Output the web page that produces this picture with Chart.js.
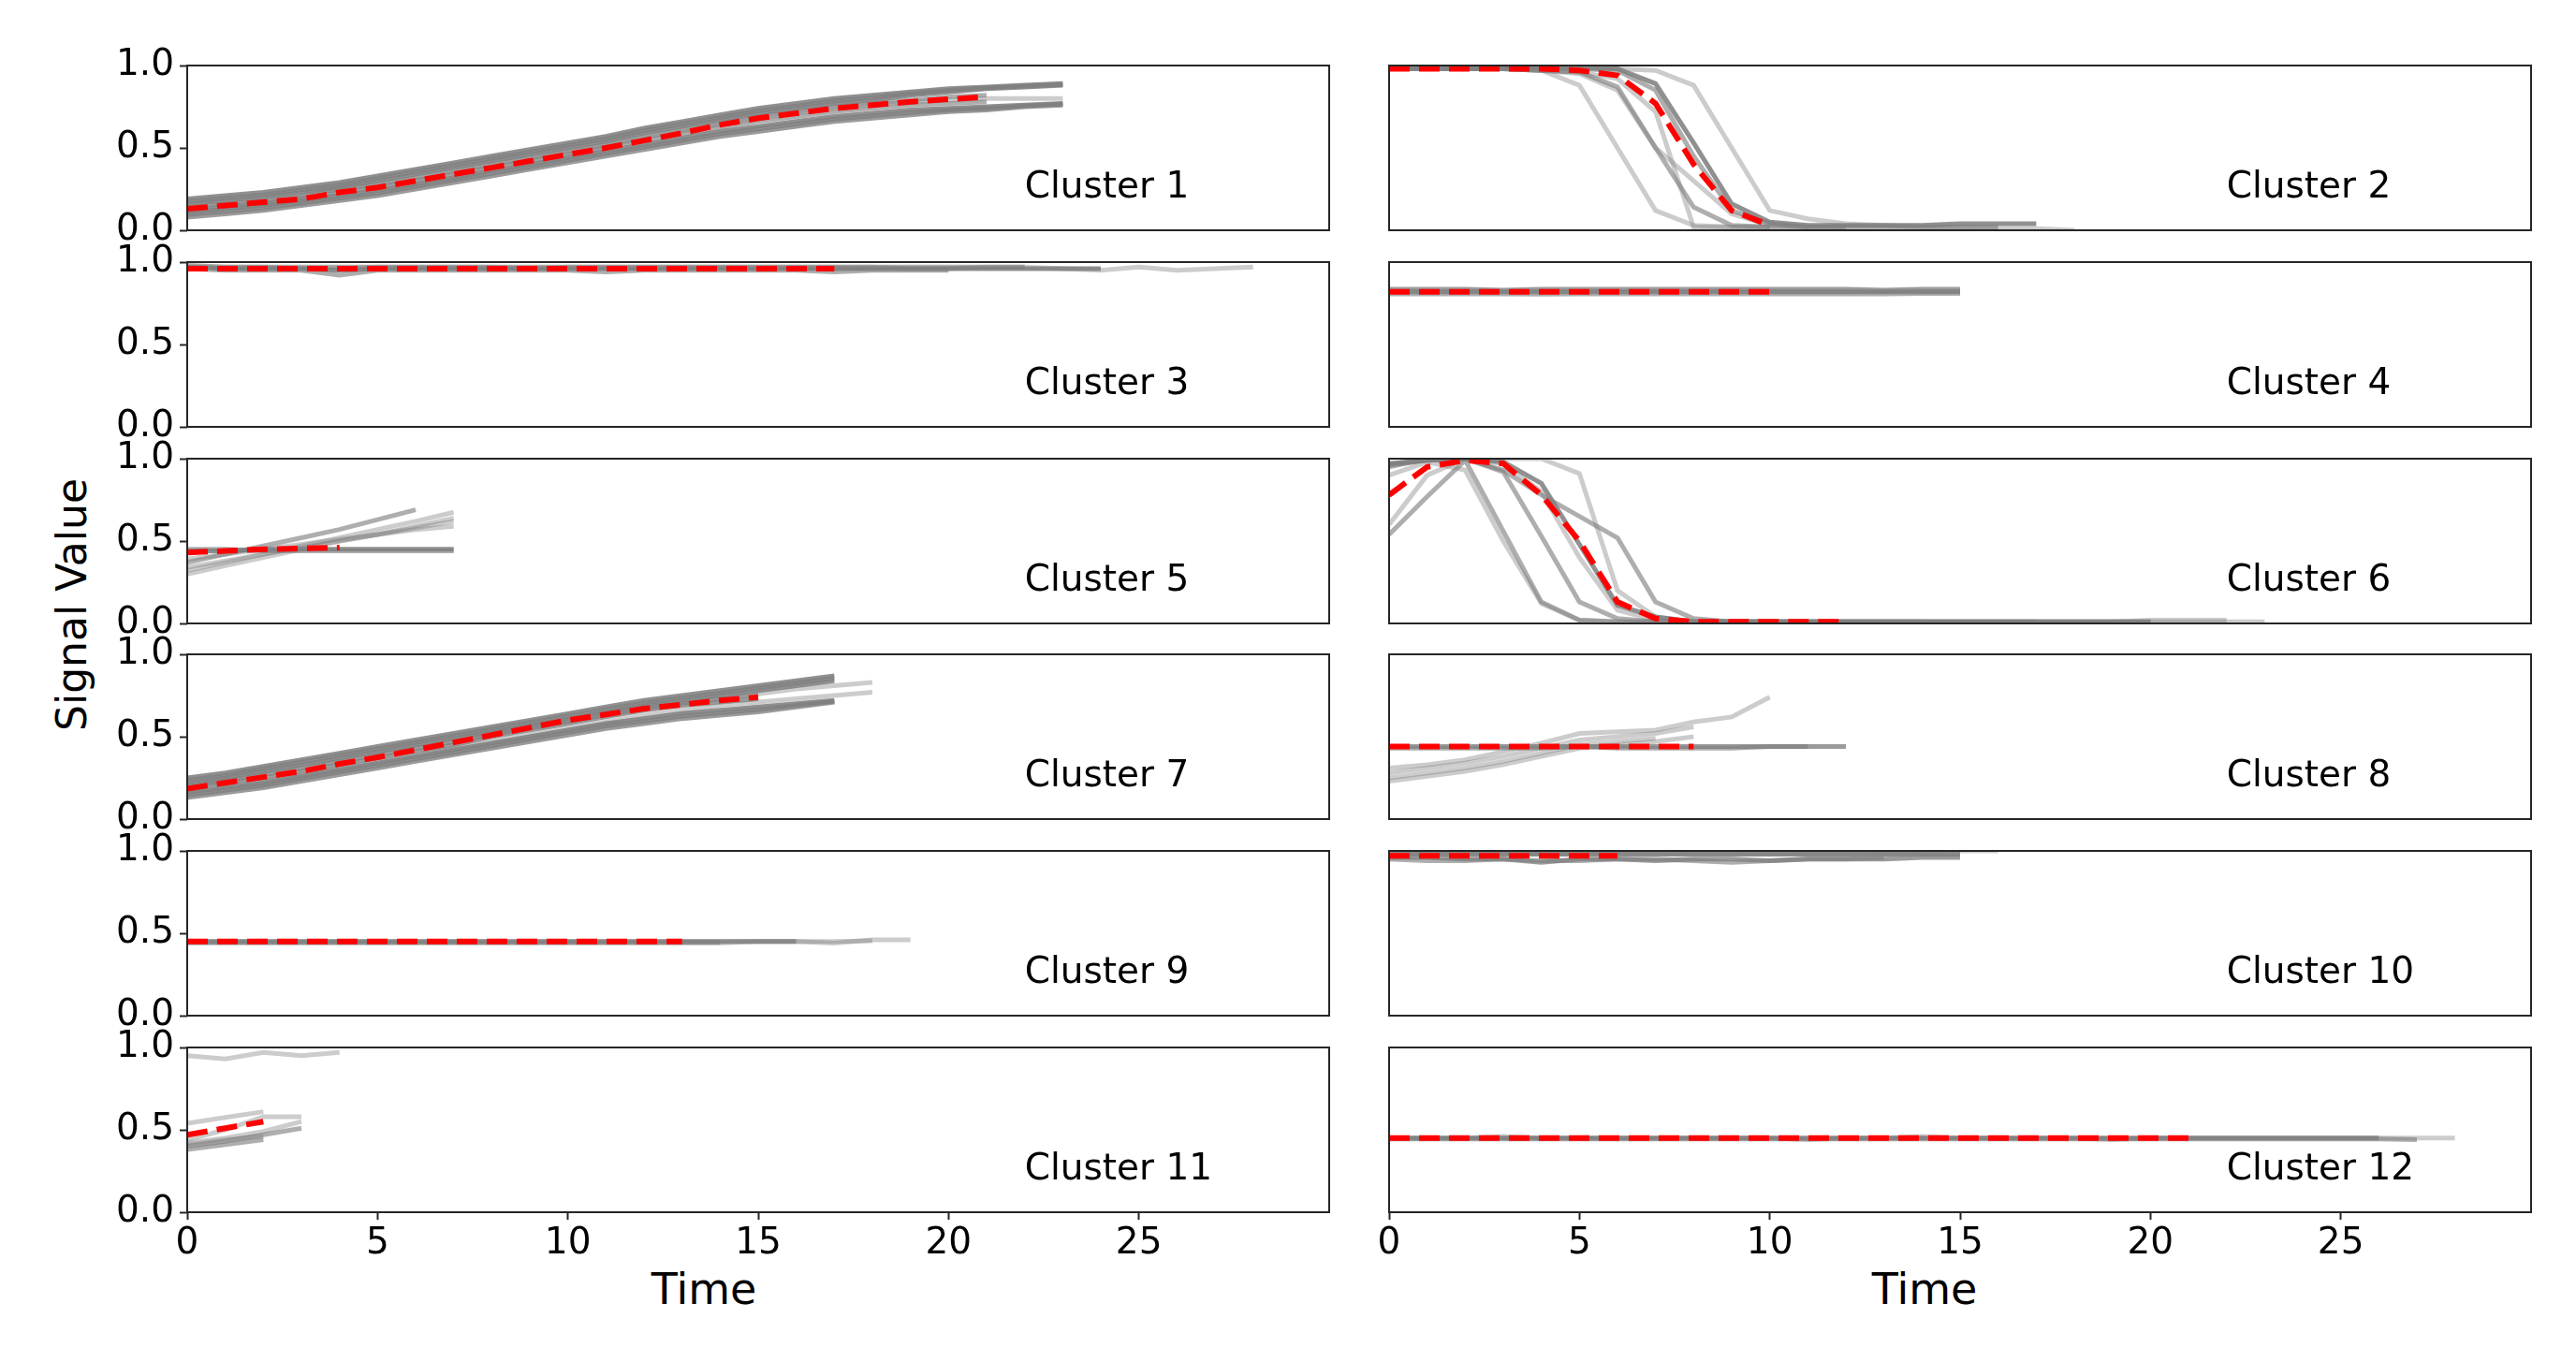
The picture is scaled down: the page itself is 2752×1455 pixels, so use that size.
<!DOCTYPE html>
<html>
<head>
<meta charset="utf-8">
<script src="https://cdn.jsdelivr.net/npm/chart.js@4.4.0/dist/chart.umd.min.js"></script>
<style>
body{margin:0;background:#fff;width:2752px;height:1455px;position:relative;overflow:hidden}
canvas{position:absolute}
.lbl{position:absolute;font-family:"DejaVu Sans";color:#000;white-space:nowrap;line-height:1}
</style>
</head>
<body>

<div class="lbl" id="ylab" style="font-size:44px;left:77px;top:646px;transform:translate(-50%,-50%) rotate(-90deg)">Signal Value</div>
<div class="lbl" style="font-size:46px;left:752px;top:1354px;transform:translateX(-50%)">Time</div>
<div class="lbl" style="font-size:46px;left:2056px;top:1354px;transform:translateX(-50%)">Time</div>

<script>
/* =====================================================
DATA (x = 0,1,2,... per series)
===================================================== */

const timeTicks=[0,5,10,15,20,25]
const signalTicks=[0,0.5,1.0]
const clusterNames=["Cluster 1","Cluster 2","Cluster 3","Cluster 4","Cluster 5","Cluster 6",
"Cluster 7","Cluster 8","Cluster 9","Cluster 10","Cluster 11","Cluster 12"]

/* cluster 1 */
const cluster1Mean=[0.13,0.15,0.17,0.19,0.23,0.26,0.30,0.34,0.38,0.42,0.46,0.50,0.545,0.59,0.64,0.68,0.71,0.74,0.76,0.78,0.795,0.81]
const cluster1Members=[
[0.19,0.21,0.23,0.26,0.29,0.33,0.37,0.41,0.45,0.49,0.53,0.57,0.62,0.66,0.70,0.74,0.77,0.80,0.82,0.84,0.86,0.87,0.88,0.89],
[0.175,0.195,0.215,0.245,0.275,0.315,0.355,0.395,0.435,0.475,0.515,0.555,0.605,0.645,0.685,0.725,0.755,0.785,0.805,0.83,0.85,0.865,0.875,0.885],
[0.16,0.18,0.20,0.23,0.26,0.30,0.34,0.38,0.42,0.46,0.50,0.54,0.59,0.63,0.67,0.71,0.74,0.77,0.79,0.82,0.84,0.86,0.87,0.88],
[0.13,0.15,0.17,0.20,0.23,0.27,0.31,0.35,0.39,0.43,0.47,0.51,0.56,0.60,0.64,0.68,0.71,0.74,0.76,0.78,0.79,0.80,0.80,0.80],
[0.125,0.145,0.165,0.195,0.23,0.26,0.30,0.34,0.38,0.42,0.46,0.50,0.545,0.585,0.625,0.66,0.69,0.72,0.74,0.76,0.77,0.78],
[0.11,0.13,0.15,0.18,0.21,0.24,0.28,0.32,0.36,0.40,0.44,0.48,0.52,0.56,0.60,0.63,0.66,0.69,0.71,0.73,0.74,0.75,0.76,0.77],
[0.095,0.115,0.135,0.165,0.195,0.225,0.265,0.305,0.345,0.385,0.425,0.465,0.505,0.545,0.585,0.615,0.645,0.675,0.695,0.715,0.73,0.74,0.755,0.765],
[0.08,0.10,0.12,0.15,0.18,0.21,0.25,0.29,0.33,0.37,0.41,0.45,0.49,0.53,0.57,0.60,0.63,0.66,0.68,0.70,0.72,0.73,0.75,0.76],
[0.14,0.16,0.18,0.21,0.25,0.28,0.32,0.36,0.40,0.44,0.48,0.52,0.57,0.61,0.65,0.69,0.72,0.75,0.77,0.79,0.81,0.82]
]
const cluster1Counts=[4,3,4,1,2,4,3,3,2]

/* cluster 2 */
const cluster2Mean=[0.98,0.98,0.98,0.98,0.98,0.97,0.94,0.77,0.40,0.12,0.03]
const cluster2Members=[
[0.98,0.98,0.98,0.98,0.97,0.88,0.50,0.12,0.03,0.02,0.02],
[0.98,0.98,0.98,0.98,0.97,0.96,0.87,0.50,0.14,0.03,0.02,0.02,0.02],
[0.99,0.99,0.99,0.99,0.99,0.99,0.98,0.89,0.53,0.16,0.05,0.03,0.03,0.03,0.03,0.04,0.04,0.04],
[0.98,0.98,0.98,0.98,0.98,0.98,0.98,0.97,0.88,0.50,0.12,0.07,0.04,0.03,0.02,0.02,0.01,0.01,0.00],
[0.98,0.98,0.98,0.98,0.97,0.96,0.92,0.72,0.02,0.02,0.02],
[0.98,0.98,0.98,0.98,0.97,0.95,0.85,0.50,0.30,0.10,0.03,0.02],
[0.99,0.99,0.99,0.99,0.99,0.98,0.97,0.85,0.45,0.12,0.04,0.02,0.02,0.02,0.02,0.02,0.02]
]
const cluster2Counts=[1,2,4,1,1,1,2]

/* cluster 3 */
const cluster3Mean=[0.96,0.96,0.96,0.96,0.96,0.96,0.96,0.96,0.96,0.96,0.96,0.96,0.96,0.96,0.96,0.96,0.96,0.96]
const cluster3Members=[
[0.97,0.96,0.96,0.96,0.95,0.96,0.96,0.96,0.96,0.96,0.96,0.96,0.96,0.96,0.96,0.96,0.96,0.96,0.96,0.96,0.96,0.96,0.96,0.96,0.96],
[0.96,0.95,0.95,0.95,0.92,0.95,0.95,0.95,0.95,0.95,0.95,0.94,0.95,0.95,0.95,0.95,0.95,0.94,0.95,0.95,0.95],
[0.97,0.97,0.97,0.96,0.96,0.97,0.97,0.97,0.97,0.96,0.97,0.97,0.97,0.97,0.97,0.97,0.97,0.97,0.97,0.96,0.96,0.97,0.97,0.96,0.95,0.97,0.95,0.96,0.97],
[0.98,0.97,0.97,0.97,0.97,0.97,0.97,0.97,0.97,0.97,0.97,0.97,0.97,0.97,0.97,0.97,0.97,0.97,0.97,0.97,0.97,0.97,0.97]
]
const cluster3Counts=[4,2,1,2]

/* cluster 4 */
const cluster4Mean=[0.82,0.82,0.82,0.82,0.82,0.82,0.82,0.82,0.82,0.82,0.82]
const cluster4Members=[
[0.82,0.82,0.82,0.82,0.82,0.82,0.82,0.82,0.82,0.82,0.82,0.82,0.82,0.82,0.82,0.82],
[0.835,0.835,0.835,0.83,0.835,0.835,0.835,0.835,0.835,0.835,0.835,0.835,0.835,0.83,0.835,0.835],
[0.807,0.807,0.807,0.807,0.805,0.807,0.807,0.807,0.807,0.807,0.807,0.807,0.807,0.807,0.81,0.81]
]
const cluster4Counts=[4,3,2]

/* cluster 5 */
const cluster5Mean=[0.43,0.44,0.45,0.455,0.46]
const cluster5Members=[
[0.44,0.44,0.45,0.45,0.45,0.45,0.45,0.45],
[0.45,0.45,0.44,0.44,0.44,0.44,0.44,0.44],
[0.37,0.42,0.47,0.52,0.57,0.63,0.69],
[0.32,0.37,0.42,0.47,0.52,0.57,0.62,0.675],
[0.30,0.35,0.40,0.45,0.50,0.54,0.59,0.64],
[0.34,0.38,0.42,0.46,0.50,0.54,0.58,0.62],
[0.39,0.42,0.45,0.48,0.51,0.54,0.57,0.59]
]
const cluster5Counts=[4,2,2,1,1,1,1]

/* cluster 6 */
const cluster6Mean=[0.78,0.95,0.99,0.97,0.78,0.50,0.13,0.03,0.01,0.01,0.01,0.01,0.01]
const cluster6Members=[
[0.54,0.77,0.99,0.56,0.13,0.02,0.01,0.01,0.01,0.01,0.01,0.01,0.01,0.01,0.01,0.01,0.01,0.01,0.01,0.01,0.01],
[0.95,1.00,1.00,0.92,0.53,0.13,0.03,0.01,0.01,0.01,0.01,0.01,0.01,0.01,0.01],
[0.97,0.99,1.00,0.98,0.85,0.48,0.11,0.04,0.01,0.01,0.01,0.01,0.01,0.01,0.01,0.01,0.01,0.01,0.01,0.01,0.01],
[0.97,0.99,1.00,1.00,1.00,0.91,0.20,0.04,0.01,0.01,0.01,0.01,0.01,0.01,0.01,0.01,0.01,0.01,0.01,0.01,0.01,0.01,0.01,0.01],
[0.96,0.99,1.00,0.93,0.78,0.65,0.52,0.13,0.03,0.01,0.01,0.01,0.01,0.01,0.01,0.01,0.01,0.01],
[0.90,0.98,0.93,0.50,0.12,0.02,0.01,0.01,0.01,0.01,0.01],
[0.60,0.90,1.00,0.97,0.80,0.40,0.08,0.02,0.01,0.01,0.01,0.01,0.01,0.01,0.01,0.01,0.01,0.01,0.01,0.01,0.02,0.02,0.02]
]
const cluster6Counts=[2,2,4,1,2,1,1]

/* cluster 7 */
const cluster7Mean=[0.185,0.22,0.255,0.29,0.335,0.375,0.42,0.465,0.51,0.555,0.60,0.635,0.67,0.695,0.72,0.74]
const cluster7Members=[
[0.25,0.28,0.32,0.36,0.40,0.44,0.48,0.52,0.56,0.60,0.64,0.68,0.72,0.75,0.78,0.81,0.84,0.87],
[0.235,0.265,0.305,0.345,0.385,0.425,0.465,0.505,0.545,0.585,0.625,0.665,0.705,0.735,0.765,0.795,0.825,0.855],
[0.22,0.25,0.29,0.33,0.37,0.41,0.45,0.49,0.53,0.57,0.61,0.65,0.69,0.72,0.75,0.78,0.81,0.84],
[0.205,0.235,0.27,0.31,0.35,0.39,0.43,0.47,0.515,0.555,0.595,0.635,0.675,0.705,0.73,0.755],
[0.19,0.22,0.25,0.29,0.33,0.37,0.41,0.45,0.50,0.54,0.58,0.62,0.66,0.69,0.71,0.73],
[0.16,0.19,0.22,0.26,0.30,0.34,0.38,0.42,0.46,0.50,0.54,0.58,0.61,0.64,0.66,0.68,0.70,0.72],
[0.145,0.175,0.205,0.245,0.285,0.325,0.365,0.405,0.445,0.485,0.525,0.565,0.595,0.625,0.645,0.665,0.69,0.715],
[0.13,0.16,0.19,0.23,0.27,0.31,0.35,0.39,0.43,0.47,0.51,0.55,0.58,0.61,0.63,0.65,0.68,0.71],
[0.20,0.23,0.27,0.31,0.35,0.39,0.43,0.47,0.51,0.55,0.59,0.63,0.67,0.70,0.73,0.76,0.79,0.81,0.83],
[0.17,0.20,0.23,0.27,0.31,0.35,0.39,0.43,0.47,0.51,0.55,0.59,0.63,0.66,0.69,0.71,0.73,0.75,0.77]
]
const cluster7Counts=[4,3,4,2,3,4,3,3,1,1]

/* cluster 8 */
const cluster8Mean=[0.44,0.44,0.44,0.44,0.44,0.44,0.44,0.44,0.44]
const cluster8Members=[
[0.44,0.44,0.44,0.44,0.44,0.44,0.44,0.44,0.44,0.44,0.44,0.44,0.44],
[0.43,0.43,0.43,0.43,0.43,0.44,0.43,0.43,0.43,0.43,0.44,0.44],
[0.31,0.33,0.36,0.41,0.46,0.52,0.53,0.54,0.59,0.62,0.74],
[0.28,0.31,0.34,0.38,0.43,0.48,0.50,0.52,0.56],
[0.25,0.28,0.31,0.35,0.40,0.45,0.47,0.49],
[0.23,0.26,0.29,0.33,0.38,0.43,0.45,0.47,0.50]
]
const cluster8Counts=[3,2,1,1,1,1]

/* cluster 9 */
const cluster9Mean=[0.45,0.45,0.45,0.45,0.45,0.45,0.45,0.45,0.45,0.45,0.45,0.45,0.45,0.45]
const cluster9Members=[
[0.45,0.45,0.45,0.45,0.45,0.45,0.45,0.45,0.45,0.45,0.45,0.45,0.45,0.45,0.45,0.45,0.45],
[0.45,0.45,0.45,0.45,0.45,0.45,0.45,0.45,0.45,0.45,0.45,0.45,0.45,0.45,0.45,0.45,0.45,0.44,0.46,0.46],
[0.44,0.44,0.44,0.44,0.44,0.44,0.44,0.44,0.44,0.44,0.44,0.44,0.44,0.44,0.44,0.45,0.45,0.45,0.455],
[0.445,0.445,0.445,0.445,0.445,0.445,0.445,0.445,0.445,0.445,0.445,0.445,0.445,0.445,0.445]
]
const cluster9Counts=[3,1,1,2]

/* cluster 10 */
const cluster10Mean=[0.97,0.97,0.97,0.97,0.97,0.97,0.97]
const cluster10Members=[
[0.98,0.98,0.98,0.98,0.98,0.98,0.98,0.98,0.98,0.98,0.98,0.98,0.98,0.98,0.98,0.98],
[0.96,0.96,0.95,0.95,0.93,0.95,0.95,0.94,0.95,0.95,0.94,0.95,0.95,0.95,0.96,0.96],
[0.99,0.99,0.99,0.99,0.99,0.99,0.99,0.99,0.99,0.99,0.99,0.99,0.99,0.99,0.99,1.00,1.00],
[0.95,0.94,0.94,0.95,0.94,0.94,0.95,0.95,0.94,0.93,0.94,0.95,0.95,0.96]
]
const cluster10Counts=[5,3,1,2]

/* cluster 11 */
const cluster11Mean=[0.47,0.51,0.55]
const cluster11Members=[
[0.95,0.93,0.97,0.95,0.97],
[0.54,0.575,0.61],
[0.44,0.50,0.58,0.58],
[0.42,0.45,0.49,0.55],
[0.40,0.43,0.47,0.51],
[0.38,0.41,0.44],
[0.41,0.44,0.46]
]
const cluster11Counts=[1,1,1,1,2,2,1]

/* cluster 12 */
const cluster12Mean=[0.45,0.45,0.45,0.45,0.45,0.45,0.45,0.45,0.45,0.45,0.45,0.45,0.45,0.45,0.45,0.45,0.45,0.45,0.45,0.45,0.45,0.45]
const cluster12Members=[
[0.45,0.45,0.45,0.45,0.45,0.45,0.45,0.45,0.45,0.45,0.45,0.45,0.45,0.45,0.45,0.45,0.45,0.45,0.45,0.45,0.45,0.45,0.45,0.45,0.45,0.45,0.45],
[0.445,0.445,0.445,0.445,0.445,0.445,0.445,0.445,0.445,0.445,0.445,0.445,0.445,0.445,0.445,0.445,0.445,0.445,0.445,0.445,0.445,0.445,0.445,0.445,0.445,0.445,0.445,0.44],
[0.45,0.45,0.45,0.46,0.45,0.45,0.45,0.45,0.45,0.45,0.45,0.44,0.45,0.45,0.46,0.45,0.45,0.45,0.45,0.44,0.45,0.45,0.45,0.45,0.45,0.45,0.45,0.45,0.45]
]
const cluster12Counts=[4,2,1]


/* =====================================================
PANEL TABLE
===================================================== */

const clusters=[
{mean:cluster1Mean,members:cluster1Members,counts:cluster1Counts},
{mean:cluster2Mean,members:cluster2Members,counts:cluster2Counts},
{mean:cluster3Mean,members:cluster3Members,counts:cluster3Counts},
{mean:cluster4Mean,members:cluster4Members,counts:cluster4Counts},
{mean:cluster5Mean,members:cluster5Members,counts:cluster5Counts},
{mean:cluster6Mean,members:cluster6Members,counts:cluster6Counts},
{mean:cluster7Mean,members:cluster7Members,counts:cluster7Counts},
{mean:cluster8Mean,members:cluster8Members,counts:cluster8Counts},
{mean:cluster9Mean,members:cluster9Members,counts:cluster9Counts},
{mean:cluster10Mean,members:cluster10Members,counts:cluster10Counts},
{mean:cluster11Mean,members:cluster11Members,counts:cluster11Counts},
{mean:cluster12Mean,members:cluster12Members,counts:cluster12Counts}
]


/* =====================================================
LAYOUT
===================================================== */

const COL_LEFT=[200,1484]
const COL_W=1220
const ROW_TOP=70
const ROW_PITCH=209.8
const ROW_H=176
const PAD_L=130, PAD_T=30, PAD_R=30, PAD_B=30, X_H=70

const FONT="DejaVu Sans"
const TICK_FONT={family:FONT,size:39}

const toPoints=arr=>arr.map((v,i)=>({x:i,y:v}))


/* frame + cluster label */

const panelDecor={
id:"panelDecor",
afterDatasetsDraw(chart,args,opts){
const a=chart.chartArea
const c=chart.ctx
c.save()
c.strokeStyle="#262626"
c.lineWidth=2
c.strokeRect(a.left,a.top,a.right-a.left,a.bottom-a.top)
c.fillStyle="#000"
c.font="39px '"+FONT+"'"
c.textBaseline="alphabetic"
c.textAlign="left"
c.fillText(opts.label,chart.scales.x.getPixelForValue(22),chart.scales.y.getPixelForValue(0.2))
c.restore()
}
}


/* =====================================================
BUILD PANELS
===================================================== */

clusters.forEach((cl,i)=>{

const row=Math.floor(i/2)
const col=i%2
const bottom=row===5
const left=col===0

const cv=document.createElement("canvas")
const w=PAD_L+COL_W+PAD_R
const h=PAD_T+ROW_H+(bottom?X_H:PAD_B)
cv.width=w
cv.height=h
cv.style.left=(COL_LEFT[col]-PAD_L)+"px"
cv.style.top=Math.round(ROW_TOP+row*ROW_PITCH-PAD_T)+"px"
document.body.appendChild(cv)

const datasets=[{
data:toPoints(cl.mean),
borderColor:"#ff0000",
borderWidth:6,
borderDash:[22,10],
pointRadius:0,
tension:0,
order:0
}]

cl.members.forEach((m,j)=>{
const alpha=1-Math.pow(0.6,cl.counts[j])
datasets.push({
data:toPoints(m),
borderColor:"rgba(128,128,128,"+alpha.toFixed(3)+")",
borderWidth:5,
pointRadius:0,
tension:0,
order:1
})
})

new Chart(cv,{
type:"line",
data:{datasets:datasets},
options:{
responsive:false,
animation:false,
devicePixelRatio:1,
events:[],
layout:{padding:{left:0,top:PAD_T,right:PAD_R,bottom:bottom?0:PAD_B}},
plugins:{legend:{display:false},tooltip:{enabled:false},panelDecor:{label:clusterNames[i]}},
scales:{
x:{
type:"linear",
min:0,max:30,
afterBuildTicks:s=>{s.ticks=timeTicks.map(v=>({value:v}))},
afterFit:s=>{s.height=bottom?X_H:0},
border:{display:false},
grid:{display:bottom,drawOnChartArea:false,drawTicks:true,tickLength:8,tickWidth:2,tickColor:"#262626"},
ticks:{display:bottom,font:TICK_FONT,color:"#000",padding:2,maxRotation:0,autoSkip:false,callback:v=>String(v)}
},
y:{
min:0,max:1,
afterBuildTicks:s=>{s.ticks=signalTicks.map(v=>({value:v}))},
afterFit:s=>{s.width=PAD_L},
border:{display:false},
grid:{display:left,drawOnChartArea:false,drawTicks:true,tickLength:8,tickWidth:2,tickColor:"#262626"},
ticks:{display:left,font:TICK_FONT,color:"#000",padding:6,autoSkip:false,callback:v=>v.toFixed(1)}
}
}
},
plugins:[panelDecor]
})

})
</script>
</body>
</html>
